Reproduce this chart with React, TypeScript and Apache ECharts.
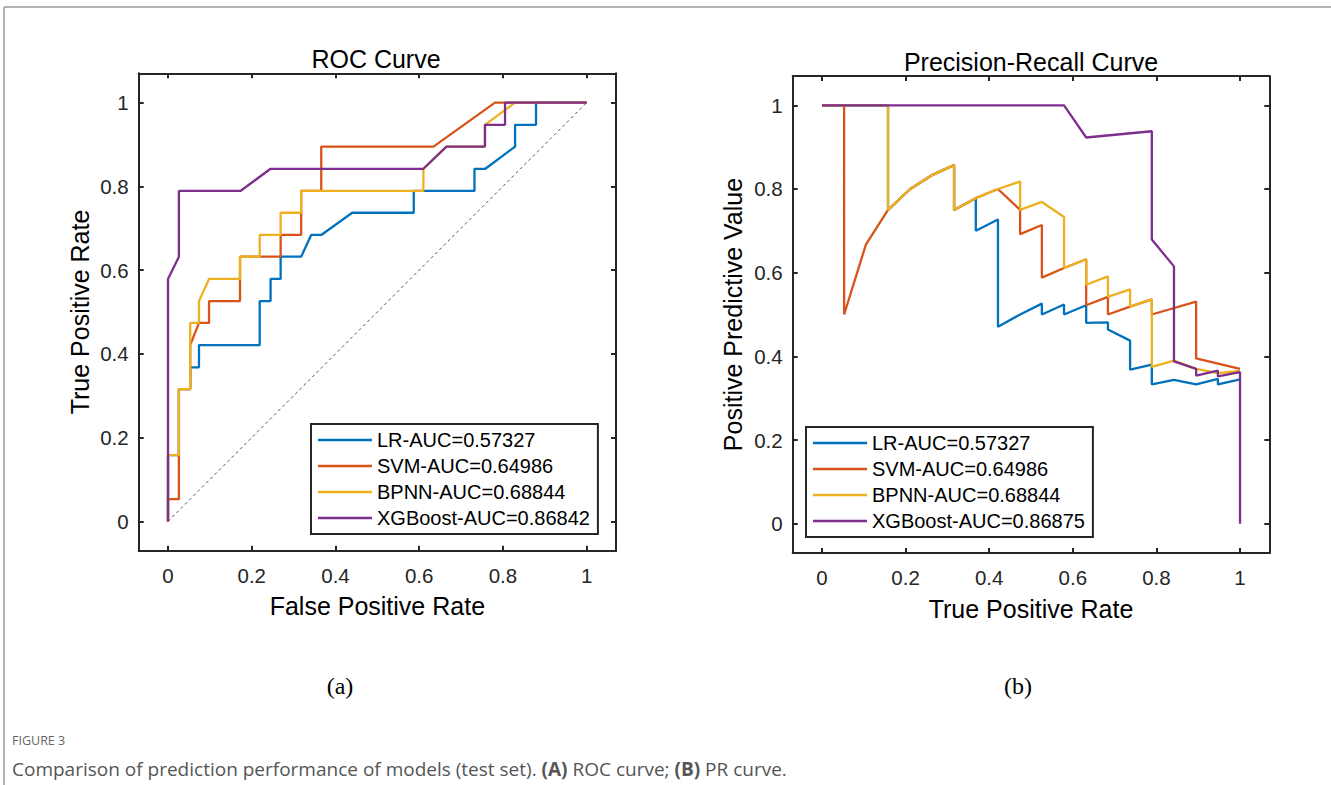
import React, { useEffect, useRef } from "react";
import * as echarts from "echarts";

const TICKS = [0, 0.2, 0.4, 0.6, 0.8, 1];
const AXIS_MIN = -0.07;
const AXIS_MAX = 1.07;

const NAMES_ROC = ["LR-AUC=0.57327", "SVM-AUC=0.64986", "BPNN-AUC=0.68844", "XGBoost-AUC=0.86842"];
const NAMES_PR = ["LR-AUC=0.57327", "SVM-AUC=0.64986", "BPNN-AUC=0.68844", "XGBoost-AUC=0.86875"];
const COLORS = ["#0072BD", "#D95319", "#EDB120", "#7E2F8E"];

// ROC curves: [FPR, TPR]
const rocLR = [
  [0, 0], [0, 0.158], [0.026, 0.158], [0.026, 0.316], [0.053, 0.316], [0.053, 0.368], [0.074, 0.368],
  [0.074, 0.421], [0.219, 0.421], [0.219, 0.526], [0.245, 0.526], [0.245, 0.579], [0.269, 0.579],
  [0.269, 0.632], [0.318, 0.632], [0.342, 0.684], [0.366, 0.684], [0.44, 0.737], [0.587, 0.737],
  [0.587, 0.789], [0.732, 0.789], [0.732, 0.842], [0.758, 0.842], [0.829, 0.895], [0.829, 0.947],
  [0.879, 0.947], [0.879, 1], [1, 1],
];
const rocSVM = [
  [0, 0], [0, 0.053], [0.026, 0.053], [0.026, 0.316], [0.053, 0.316], [0.053, 0.421], [0.074, 0.474],
  [0.098, 0.474], [0.098, 0.526], [0.172, 0.526], [0.172, 0.632], [0.269, 0.632], [0.269, 0.684],
  [0.318, 0.684], [0.318, 0.789], [0.366, 0.789], [0.366, 0.895], [0.634, 0.895], [0.781, 1], [1, 1],
];
const rocBPNN = [
  [0, 0], [0, 0.158], [0.026, 0.158], [0.026, 0.316], [0.053, 0.316], [0.053, 0.474], [0.074, 0.474],
  [0.074, 0.526], [0.098, 0.579], [0.172, 0.579], [0.172, 0.632], [0.219, 0.632], [0.219, 0.684],
  [0.269, 0.684], [0.269, 0.737], [0.318, 0.737], [0.318, 0.789], [0.61, 0.789], [0.61, 0.842],
  [0.665, 0.895], [0.757, 0.895], [0.757, 0.947], [0.829, 1], [1, 1],
];
const rocXGB = [
  [0, 0], [0, 0.579], [0.026, 0.632], [0.026, 0.789], [0.173, 0.789], [0.245, 0.842], [0.61, 0.842],
  [0.665, 0.895], [0.757, 0.895], [0.757, 0.947], [0.805, 0.947], [0.805, 1], [1, 1],
];
const rocChance = [[0, 0], [1, 1]];

// PR curves: [Recall, Precision]
const prLR = [
  [0, 1], [0.158, 1], [0.158, 0.75], [0.211, 0.8], [0.263, 0.833], [0.316, 0.857], [0.316, 0.75],
  [0.368, 0.778], [0.368, 0.7], [0.421, 0.727], [0.421, 0.471], [0.474, 0.5], [0.526, 0.526],
  [0.526, 0.5], [0.579, 0.524], [0.579, 0.5], [0.632, 0.522], [0.632, 0.48], [0.684, 0.481],
  [0.684, 0.464], [0.737, 0.4375], [0.737, 0.368], [0.789, 0.38], [0.789, 0.333], [0.842, 0.344],
  [0.895, 0.333], [0.947, 0.346], [0.947, 0.333], [1, 0.345],
];
const prSVM = [
  [0, 1], [0.053, 1], [0.053, 0.5], [0.105, 0.667], [0.158, 0.75], [0.211, 0.8], [0.263, 0.833],
  [0.316, 0.857], [0.316, 0.75], [0.368, 0.778], [0.421, 0.8], [0.474, 0.75], [0.474, 0.692],
  [0.526, 0.714], [0.526, 0.588], [0.579, 0.611], [0.632, 0.632], [0.632, 0.522], [0.684, 0.542],
  [0.684, 0.5], [0.737, 0.519], [0.789, 0.536], [0.789, 0.5], [0.895, 0.531], [0.895, 0.395], [1, 0.37],
];
const prBPNN = [
  [0, 1], [0.158, 1], [0.158, 0.75], [0.211, 0.8], [0.263, 0.833], [0.316, 0.857], [0.316, 0.75],
  [0.368, 0.778], [0.421, 0.8], [0.474, 0.818], [0.474, 0.75], [0.526, 0.769], [0.579, 0.733],
  [0.579, 0.611], [0.632, 0.632], [0.632, 0.571], [0.684, 0.591], [0.684, 0.542], [0.737, 0.56],
  [0.737, 0.519], [0.789, 0.536], [0.789, 0.375], [0.842, 0.39], [0.895, 0.37], [0.947, 0.36], [1, 0.365],
];
const prXGB = [
  [0, 1], [0.579, 1], [0.632, 0.923], [0.789, 0.938], [0.789, 0.679], [0.842, 0.615], [0.842, 0.388],
  [0.895, 0.37], [0.895, 0.354], [0.947, 0.366], [0.947, 0.352], [1, 0.362], [1, 0],
];

const AXIS_COLOR = "#262626";
const FONT = "'Liberation Sans', Arial, Helvetica, sans-serif";
const LINE_W = 2.3;

function makeAxes(grid: number, isX: boolean, name: string, gap: number) {
  const common = {
    type: "value",
    gridIndex: grid,
    min: AXIS_MIN,
    max: AXIS_MAX,
    splitLine: { show: false },
    axisLine: { show: true, onZero: false, lineStyle: { color: AXIS_COLOR, width: 2 } },
    axisTick: { show: true, inside: true, length: 5, customValues: TICKS, lineStyle: { color: AXIS_COLOR, width: 2 } },
  };
  return [
    {
      ...common,
      position: isX ? "bottom" : "left",
      name,
      nameLocation: "middle",
      nameGap: gap,
      nameTextStyle: { fontFamily: FONT, fontSize: 25, color: "#000" },
      axisLabel: {
        show: true,
        customValues: TICKS,
        formatter: (v: number) => String(Math.round(v * 10) / 10),
        fontFamily: FONT,
        fontSize: 20.5,
        color: AXIS_COLOR,
        margin: isX ? 14 : 10,
      },
    },
    {
      ...common,
      position: isX ? "top" : "right",
      axisLabel: { show: false },
    },
  ];
}

export default function App() {
  const ref = useRef<HTMLDivElement>(null);
  useEffect(() => {
    if (!ref.current) return;
    const chart = echarts.init(ref.current, undefined, { renderer: "svg" });
    const rocData = [rocLR, rocSVM, rocBPNN, rocXGB];
    const prData = [prLR, prSVM, prBPNN, prXGB];
    const series: any[] = [];
    series.push({
      type: "line",
      name: "chance",
      xAxisIndex: 0,
      yAxisIndex: 0,
      data: rocChance,
      symbol: "none",
      lineStyle: { color: "#555", width: 1, type: [3, 3] },
      silent: true,
    });
    rocData.forEach((d, i) =>
      series.push({
        type: "line",
        name: NAMES_ROC[i],
        xAxisIndex: 0,
        yAxisIndex: 0,
        data: d,
        symbol: "none",
        color: COLORS[i],
        lineStyle: { color: COLORS[i], width: LINE_W },
      })
    );
    prData.forEach((d, i) =>
      series.push({
        type: "line",
        name: NAMES_PR[i],
        xAxisIndex: 2,
        yAxisIndex: 2,
        data: d,
        symbol: "none",
        color: COLORS[i],
        lineStyle: { color: COLORS[i], width: LINE_W },
      })
    );

    const legendCommon = {
      orient: "vertical",
      itemWidth: 54,
      itemHeight: 2.5,
      icon: "rect",
      itemGap: 4,
      padding: [5, 8, 5, 7],
      borderColor: AXIS_COLOR,
      borderWidth: 2,
      backgroundColor: "#fff",
      selectedMode: false,
      textStyle: { fontFamily: FONT, fontSize: 20, color: "#000", lineHeight: 22 },
    };

    const titleStyle = { fontFamily: FONT, fontSize: 25, fontWeight: "normal", color: "#000" };

    chart.setOption({
      animation: false,
      backgroundColor: "#fff",
      title: [
        { text: "ROC Curve", left: 376, top: 46, textAlign: "center", padding: 0, textStyle: titleStyle },
        { text: "Precision-Recall Curve", left: 1031, top: 49, textAlign: "center", padding: 0, textStyle: titleStyle },
      ],
      legend: [
        { ...legendCommon, data: NAMES_ROC, left: 311, top: 424 },
        { ...legendCommon, data: NAMES_PR, left: 806, top: 427 },
      ],
      grid: [
        { left: 138.7, top: 73.3, width: 477.3, height: 477.4 },
        { left: 792.7, top: 76, width: 476.6, height: 477 },
      ],
      xAxis: [...makeAxes(0, true, "False Positive Rate", 43), ...makeAxes(1, true, "True Positive Rate", 43)],
      yAxis: [...makeAxes(0, false, "True Positive Rate", 46), ...makeAxes(1, false, "Positive Predictive Value", 47)],
      series,
      graphic: [
        { type: "line", shape: { x1: 4, y1: 7, x2: 1331, y2: 7 }, style: { stroke: "#999", lineWidth: 1.5 } },
        { type: "line", shape: { x1: 4, y1: 7, x2: 4, y2: 785 }, style: { stroke: "#999", lineWidth: 1.5 } },
        {
          type: "text",
          x: 340,
          y: 686,
          style: { text: "(a)", font: "24px 'Liberation Serif', 'Times New Roman', serif", fill: "#000", textAlign: "center", textVerticalAlign: "middle" },
        },
        {
          type: "text",
          x: 1018,
          y: 686,
          style: { text: "(b)", font: "24px 'Liberation Serif', 'Times New Roman', serif", fill: "#000", textAlign: "center", textVerticalAlign: "middle" },
        },
        {
          type: "text",
          x: 12,
          y: 740,
          style: { text: "FIGURE 3", font: "12.5px 'Open Sans', sans-serif", fill: "#666", textAlign: "left", textVerticalAlign: "middle" },
        },
        {
          type: "text",
          x: 12,
          y: 769,
          style: {
            text: "Comparison of prediction performance of models (test set). {b|(A)} ROC curve; {b|(B)} PR curve.",
            font: "19px 'Open Sans', sans-serif",
            fill: "#555",
            textAlign: "left",
            textVerticalAlign: "middle",
            rich: { b: { fontWeight: "bold", fontSize: 19, fontFamily: "'Open Sans', sans-serif", fill: "#555" } },
          },
        },
      ],
    });
    return () => chart.dispose();
  }, []);
  return <div ref={ref} style={{ position: "absolute", left: 0, top: 0, width: 1331, height: 785 }} />;
}
